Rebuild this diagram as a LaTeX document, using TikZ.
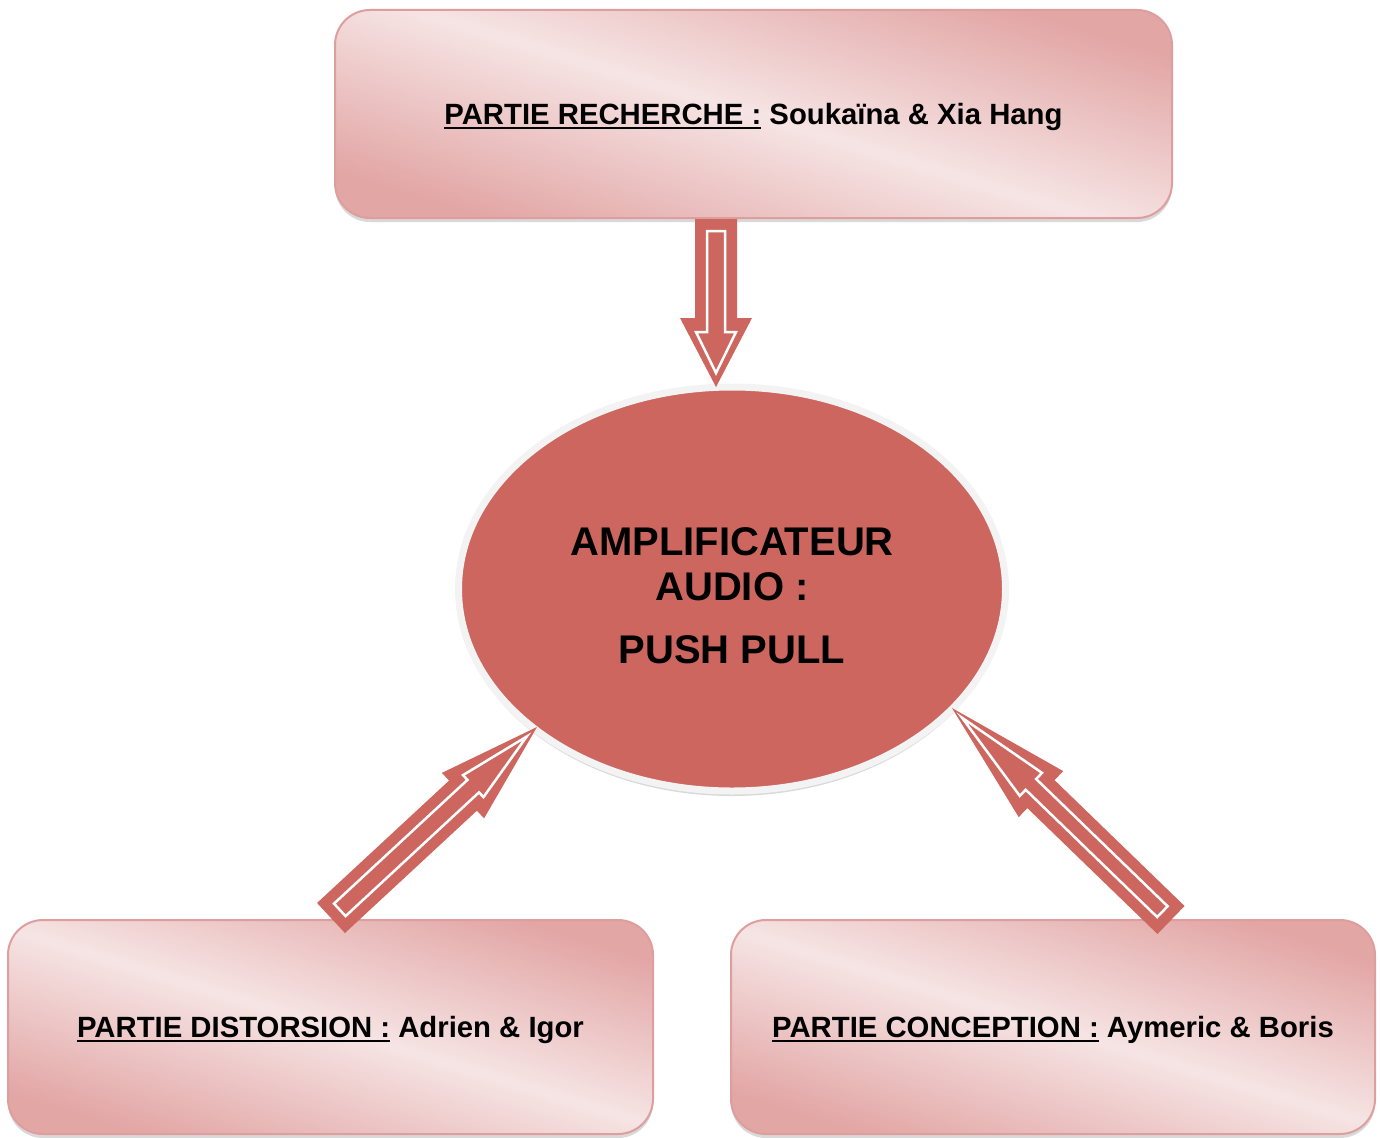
\documentclass[tikz,border=0pt]{standalone}
\usepackage{fontspec}
\setmainfont{Liberation Sans}
\usetikzlibrary{shapes.geometric,calc,shadows}
\definecolor{arrowred}{HTML}{CD665F}
\definecolor{boxdark}{HTML}{E2A6A5}
\definecolor{boxlight}{HTML}{F6E4E4}
\definecolor{boxline}{HTML}{DE9E9D}
\definecolor{ellborder}{HTML}{F3F3F3}
\newsavebox\ulbox
\newcommand\myul[1]{\sbox\ulbox{#1}\rlap{\rule[-4pt]{\wd\ulbox}{1.8pt}}\usebox\ulbox}
\newcommand\blockarrow[5]{%
  \fill[arrowred] ($(#1)!#3pt!90:(#2)$) -- ($(#1)!#4pt!(#2)!#3pt!90:(#2)$) -- ($(#1)!#4pt!(#2)!#5pt!90:(#2)$) -- (#2) -- ($(#1)!#4pt!(#2)!#5pt!-90:(#2)$) -- ($(#1)!#4pt!(#2)!#3pt!-90:(#2)$) -- ($(#1)!#3pt!-90:(#2)$) -- cycle;
  \pgfmathsetmacro\wi{#3-12}\pgfmathsetmacro\si{#4+14}\pgfmathsetmacro\hi{#5-16}%
  \draw[white, line width=2.5pt, line join=miter] ($(#1)!12pt!(#2)!\wi pt!90:(#2)$) -- ($(#1)!\si pt!(#2)!\wi pt!90:(#2)$) -- ($(#1)!\si pt!(#2)!\hi pt!90:(#2)$) -- ($(#2)!14pt!(#1)$) -- ($(#1)!\si pt!(#2)!\hi pt!-90:(#2)$) -- ($(#1)!\si pt!(#2)!\wi pt!-90:(#2)$) -- ($(#1)!12pt!(#2)!\wi pt!-90:(#2)$) -- cycle;
}
\tikzset{
  partbox/.style={rectangle, rounded corners=35pt, draw=boxline, line width=2pt,
    top color=boxdark, bottom color=boxdark, middle color=boxlight, shading angle=-17,
    drop shadow={shadow xshift=0pt, shadow yshift=-4pt, opacity=0.15, fill=black},
    inner sep=0pt, text depth=0pt, font=\fontsize{29.3}{35}\selectfont\bfseries},
  center ell/.style={ellipse, fill=arrowred, draw=ellborder, line width=7pt, inner sep=0pt,
    drop shadow={shadow xshift=0pt, shadow yshift=-5pt, opacity=0.15, fill=black}},
  ell text/.style={font=\fontsize{40}{45}\selectfont\bfseries, align=center, inner sep=0pt}
}
\begin{document}
\begin{tikzpicture}[x=1pt,y=-1pt]
\useasboundingbox (0,0) rectangle (1380,1137);
\node[partbox, minimum width=837pt, minimum height=208pt] (rech) at (753.5,114) {\myul{PARTIE RECHERCHE :} Soukaïna \& Xia Hang};
\node[partbox, minimum width=645pt, minimum height=214pt] (dist) at (330.5,1027) {\myul{PARTIE DISTORSION :} Adrien \& Igor};
\node[partbox, minimum width=644pt, minimum height=214pt] (conc) at (1053,1027) {\myul{PARTIE CONCEPTION :} Aymeric \& Boris};
\node[center ell, minimum width=547pt, minimum height=404pt] (ell) at (732,589) {};
\node[ell text] (elltext) at ([yshift=-7pt]ell.center) {AMPLIFICATEUR\\AUDIO :\\[18pt]PUSH PULL};
\coordinate (topTail) at (716,219);
\coordinate (topTip) at (716,387);
\coordinate (leftTail) at (331,918);
\coordinate (leftTip) at (537,727);
\coordinate (rightTail) at (1171,920);
\coordinate (rightTip) at (952,708);
\blockarrow{topTail}{topTip}{21}{99}{36}
\blockarrow{leftTail}{leftTip}{20.5}{180}{31}
\blockarrow{rightTail}{rightTip}{19.5}{181}{32}
\end{tikzpicture}
\end{document}
